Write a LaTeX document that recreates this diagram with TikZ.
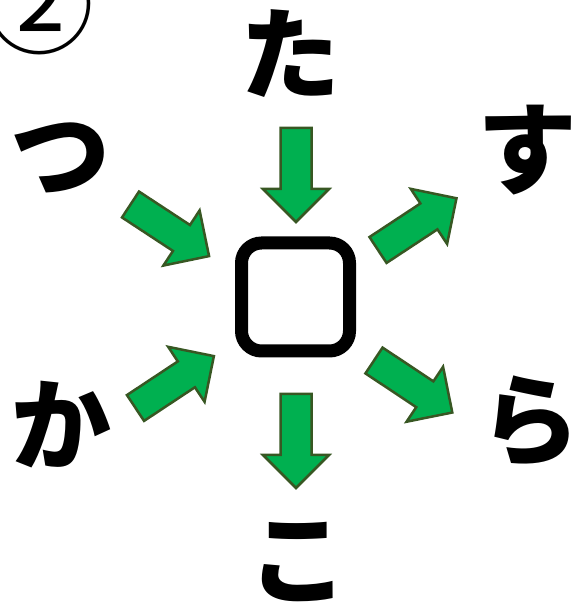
\documentclass[tikz,border=0pt]{standalone}
\usepackage{fontspec}
\newfontfamily\jpfont{Noto Sans CJK JP}
\usetikzlibrary{positioning}
\definecolor{arrowC}{RGB}{0,176,80}
\definecolor{edgeC}{RGB}{56,87,35}
\tikzset{
  kana/.style={font=\jpfont\bfseries\fontsize{100}{100}\selectfont,inner sep=0pt},
  blockarrow/.pic={
    \draw[fill=arrowC,draw=edgeC,line width=2.5pt,line join=miter]
      (0,-15.5) -- (61,-15.5) -- (61,-33) -- (94,0) -- (61,33) -- (61,15.5) -- (0,15.5) -- cycle;}
}

\begin{document}
\begin{tikzpicture}[x=1pt,y=1pt]
  \useasboundingbox (0,0) rectangle (580,604);
  \node[draw,line width=13pt,rounded corners=20pt,minimum size=108pt,inner sep=0pt] (box) at (295.5,307) {};
  \node[kana] (ta) at (290,550) {た};
  \node[kana] (tsu) at (60,446) {つ};
  \node[kana] (su) at (527,454) {す};
  \node[kana] (ka) at (62,179) {か};
  \node[kana] (ra) at (530,182) {ら};
  \node[kana] (ko) at (298,42) {こ};
  \node[font=\jpfont\fontsize{110}{110}\selectfont,inner sep=0pt] (num) at (40,600) {②};
  % block arrows: tail centre / direction
  \foreach \x/\y/\a in {296/476/-90, 296/210/-90, 130.5/399.5/-33.3,
                        378/354/33.4, 135.5/196/33.5, 374/243.5/-33.6}
    \pic[rotate=\a] at (\x,\y) {blockarrow};
\end{tikzpicture}
\end{document}
